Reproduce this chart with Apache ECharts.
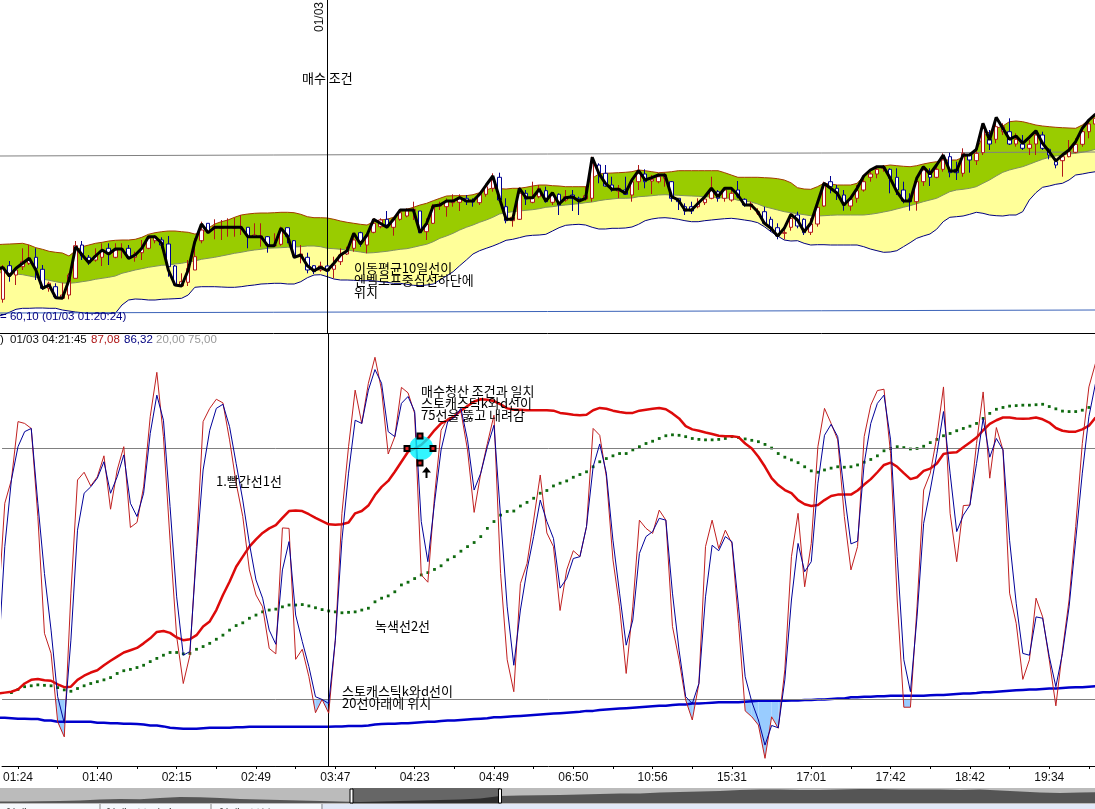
<!DOCTYPE html>
<html><head><meta charset="utf-8">
<style>html,body{margin:0;padding:0;background:#fff;overflow:hidden}#c{width:1095px;height:809px}</style>
<script src="https://cdn.jsdelivr.net/npm/echarts@6/dist/echarts.min.js"></script>
</head><body><div id="c"></div>
<script>
// every series runs from one bar left of the picture edge to the last bar
const timeLabels=['01:24','01:40','02:15','02:49','03:47','04:23','04:49','06:50','10:56','15:31','17:01','17:42','18:42','19:34'];
const openP=[40,
32.7,66.3,57,65.3,68.7,74.7,62.7,43.7,45.3,33.7,
37,53.7,87,74.7,72,74.7,83.7,74.7,82,83.7,
74.7,79.3,83.7,91.3,92,88,66,46,49.7,62,
91.3,108.7,103.7,103.7,104,104,104,104.7,94.7,94.7,
95.3,86.3,87.7,104.3,91.3,76,74.7,66.3,62,66,
62.7,70.3,78,83.7,99.3,87,99.7,105.3,112.7,104.7,
112.7,116,121.3,121,100.3,108.7,126,125.3,129.3,129.7,
133.7,131.3,129.3,137.7,143.7,154.7,125.3,111.3,112.7,138.7,
129.7,135.3,141.3,129.7,137.7,132,137,133.7,133,133.7,
167,158.7,147,141,142,137,150.3,158,151,150.3,
153.7,150.3,133.7,125.3,125.3,125.3,129.3,133.7,140.3,133.7,
132,142,132.7,126,118.7,120.3,112.7,104.3,98.7,104.7,
117,112.7,99.7,108,126,150.3,143.7,137,126,133.7,
142,154.7,158,163.7,162.7,154.7,142,133.7,130.3,150.3,
158,154.7,162.7,175.3,162.7,158.7,177,171.3,179.3,192.7,
192.7,200.3,200.3,188,188,183.7,188,197,182.7,170.3,
171.3,175.3,179.7,187.7,200.3,208];
const closeP=[62,
64.7,57,62,70.3,73.7,63.7,43.7,48.7,35.3,37,
57,86.3,76,69.3,76,80.3,78,82,83,74.7,
78,83.7,93.7,95.3,87,65.3,47,50.3,63.7,75.3,
102,99.3,105.3,104.7,105,105,105,95.3,97,96,
87,87,102,95.3,76,78,62,60.3,66,61.3,
67,77,81.3,92,90.3,97,108.7,112,107,112.7,
119.3,121.3,122.7,99.3,107.7,126,128,130.3,131,133.7,
130.3,130,137.7,145.3,152,132,111.3,114.7,138.7,133,
133.7,143.7,130.3,137,127,135.3,133.7,130.3,136.3,168.7,
158.7,146,142,143.7,137.7,150.3,158.7,150.3,152.7,155.3,
157,133.7,130.3,121,121,128.7,133,141.3,133.7,142,
138.7,135.3,127,128,120.3,108.7,103.7,96,99.3,113.7,
106,99.3,108,124.7,147,145.3,139.3,127,132.7,141.3,
150.3,158,162.7,164.3,153.7,142,131,130.3,150.3,162,
154.7,162.7,172,159.3,159.3,178.7,172,178.7,203.7,188,
205.3,205.3,188,192.7,183.7,187.7,197,183.7,177,167,
175.3,180.3,187.7,200.3,208,213.7];
const lowP=[36,
29.3,50.3,47,62,67,52,42,40.3,33.7,32.7,
32.7,53.7,72,67,70.3,66,67,73.7,73.7,72.7,
70.3,72,82.7,88.7,83.7,55.3,46,45.3,46,62,
88.7,98.7,92.7,92,95.3,95.3,97,83.7,94.7,85.3,
79.3,85.3,86.3,88.7,73.7,68.7,58.7,58,60.3,57,
53.7,67,77,80.3,85.3,78.7,98.7,103.7,103.7,96.3,
111.3,114.7,112,98.7,92,108,122,115.3,125.3,121,
127,125.3,127,135.3,140.3,130.3,108.7,105.3,112,127,
128.7,133.7,129.3,127,117,130.3,121,117,131.3,130.3,
148.7,145.3,140.3,133.7,137,130.3,142,143.7,138,148.7,
145.3,130.3,122,117,118,123.7,127,132.7,130.3,130.3,
130.3,133.7,125.3,122,117,108,100.3,92.7,92.7,101.3,
103.7,97,97,105.3,125.3,138.7,132,121.3,121.3,129.3,
140.3,150.3,153.7,160.3,138.7,137,128.7,121.3,121.3,146,
146,153.7,160.3,154.7,152,155.3,159.3,167,177,182,
188.7,197,187,185.3,182,177,177,182,172.7,163.7,
155.3,174.7,178.7,185.3,193.7,205.3];
const highP=[66,
67,71,63.7,83.7,87,83.7,67,50.3,48.7,49.3,
58.7,91,91,77,83.7,88.7,88.7,88.7,88.7,87,
80.3,92,95.3,97,94.7,96,67,58.7,72,93.7,
110.3,108.7,112.7,112,113.7,114.3,117,104.7,108.7,108.7,
96,98.7,105.3,104.3,92,87,79.3,67,70.3,67,
75.3,83.7,85.3,99.3,100.3,97,113.7,113.7,121,114.7,
122,123.7,130.3,121,113.7,128,130.3,133.7,137.7,137.7,
137,133.7,139.3,147,158.7,159.3,133.7,117,144.7,142,
150.3,147,145.3,138.7,138.7,142,142,135.3,145.3,175.3,
168.7,167,155.3,147,155.3,153.7,167,162.7,157,158.7,
158.7,151,133.7,128.7,130.3,133.7,135.3,155.3,142,143.7,
142,151,133.7,130.3,123.7,125.3,115.3,108.7,103.7,118.7,
120.3,113.7,113.7,128.7,150.3,156,147,142,135.3,147,
155.3,160.3,165.3,167,163.7,163.7,150.3,138.7,152,166.3,
163.7,168.7,178.7,179.3,170.3,183.7,178.7,183.7,208.7,202,
212,208.7,213.7,198.7,197,192,200.3,200.3,183.7,173.7,
177,192,193.7,203.7,212,217];
const ma10=[62,
64.7,56,63.7,68.7,73.7,62,43.7,47,34.3,33.7,
52,85.3,77,69.3,76,82,78,83,83,73.7,
77,83.7,95.3,95.3,88.7,62,47,46,62,90.3,
108,99.3,104.7,104.7,104.7,104.7,104.7,95.3,95.3,95.3,
86.3,86.3,103.7,96,74.7,77,66.3,61.3,64.7,61.3,
68.7,77,81.3,98.7,88,97,112.7,108.7,104.7,112.7,
122,122,122,99.7,108.7,126,127,131,131,134.3,
131,131,137.7,147,156,133.7,112.7,112.7,143.7,134.3,
134.3,142.7,131,139.3,128,134.3,135.3,131,133.7,174.7,
158.7,148.7,142.7,142.7,138.7,152,161.3,152,154.3,157,
157,135.3,132,122,122,128.7,135.3,143.7,135.3,143.7,
143.7,137,127,127,120.3,108.7,103.7,96,103.7,117.7,
112,100.3,108.7,128.7,148.7,143.7,138.7,127,133.7,143.7,
156,162,165.3,165.3,153.7,140.3,131,131,153.7,165.3,
158,167,177,161,161,177,177,182.7,208.7,192,
214.7,203.7,192.7,196,188.7,194.7,201.3,188.7,180.3,171,
177,182,190.3,203.7,212,218];
const bandUpper=[87.3,
87.7,88,88.3,88.7,87,84.3,82.7,80.7,79.7,79,
76,81.3,85.3,87,88.7,89.7,91,91.7,92,92,
92.7,94.7,97.7,99.3,100.3,101,101,100.3,99.7,98,
98.7,103.7,108,110.3,112,114.7,117,118,118.7,119,
119,119.3,119.7,119.7,119.3,117.7,115.3,114.3,114.3,114,
112.7,111,109.7,108.7,107.7,107,110.3,112,112.7,114.7,
120.3,122.7,124.7,127,128.7,131.3,133.7,136,136.3,136.3,
136.3,137.3,139.3,142,144.3,143.3,143,143.7,143.7,144.7,
146,147,147,146.3,146,145.3,145.3,145.3,145.3,153.7,
158,158.7,159,159.3,159.7,160.3,162,161.3,160.3,159.3,
159.7,160.3,161.3,161.3,161.3,161.3,161.3,161.3,161.3,159.3,
157,154.7,154.7,154.7,154.7,154.3,154,153.3,152,149.3,
144.3,143,142.7,145.3,148.7,148,147,147,147,148.7,
156,161.3,164.3,166,167,166.3,165.7,165.3,166.3,168,
169.3,170.3,172,172,172,174.7,177,182,195.3,200.3,
203.7,206,210.3,211,210.3,208.7,207,206,205.3,204.7,
204.3,204,203.7,207,212,217];
const bandMid=[59.3,
59.3,58.7,58,57.3,56,54.7,53,51.7,50.3,49,
48.7,49.3,50.3,51.3,52.7,53.7,54.7,56,58.7,60.3,
62,63.3,64.7,65.7,66.7,67,68,68.7,70,71,
72.7,73.7,74.7,76,77.3,78.7,79.7,81,82,82.7,
83.7,84,84.3,84.7,85,85.3,86,86,85.3,83.7,
83.3,82.7,82,81,80,79,79.3,80,80.7,81.7,
82.7,83.3,84.7,86.3,87.7,90.3,93.7,96,98.7,102,
104.7,107,109.7,112,114.7,118,119.3,120.3,121,121.7,
122.3,123.3,124.7,125.3,126.3,127,127.7,128.3,129.3,130,
131.3,132.3,133,133.7,133.7,134,135.3,135.7,136.3,137,
137.3,137,136.7,136.3,136,135.7,135.3,135,134.3,134,
133.7,131.7,131,130,128,125.3,123.7,122,120.3,119.3,
118.3,117.3,116.3,116,116.3,116.7,117,117,117,117,
117,117.7,118.7,120,121.3,123,124.7,126.3,128.3,130.3,
132,133.7,137,140.3,142,142.7,143.7,145.3,148.7,152,
156,159.7,162,163.7,165.3,167.7,170.3,172.7,174.7,176,
177,178,178.7,179.7,181,182.7];
const bandLower=[15.3,
17,19.7,22.7,23.7,23.7,24,24,23.7,23.7,22,
21,20,19.3,18.7,18.7,18.7,18.7,18.7,27,32,
33,32.7,32,32,32.7,33,33.3,33.7,37,44.7,
45.3,45.3,45.3,45,44.7,44.7,45.3,46.3,47,48,
48.3,48.7,48.7,48,48,50.3,54.3,57,57.3,55.3,
53,52,52,51.7,51.3,51.3,51.3,50.3,49.7,48.7,
48.7,47.7,46.7,46.3,47,48,52,56,60.3,66.3,
72,78,81.3,83.7,86,88.7,91.7,92.7,94.3,96,
96.7,97,97.7,101,104.3,106.7,107.3,107.7,107,104.7,
103,103,103.7,103.7,104,105,107.7,111.3,113,114,
114.3,113.7,112.7,111.3,110.3,110.3,111.3,112,112.7,113.3,
113.7,113,112,111,109.3,105.3,100.3,96,92,91,
91.3,88.7,87,87.3,87.3,87,87,87,87,87,
85.3,83,81.3,79.7,80,81.3,85.3,89.3,93.7,96,
98,102.7,110.3,114.7,115.3,116,117.7,119.7,118.7,117,
116.3,116,117,117,120.3,132,139.3,144.7,146,147.7,
148.7,152,157,158,159.3,160.3];
const stochK=[40.2,
62.9,68.0,80.8,80.4,79.3,60.0,34.4,30.0,15.0,11.7,
43.2,68.0,69.7,66.7,68.7,73.3,61.6,70.2,75.3,57.6,
58.7,66.5,81.9,91.6,77.5,54.8,33.7,23.4,29.6,53.4,
80.8,83.7,85.7,84.9,76.8,67.3,60.0,48.3,42.8,40.2,
31.1,29.9,57.5,57.4,28.7,30.9,24.9,17.0,19.9,16.9,
32.9,60.7,75.3,87.7,80.4,89.2,94.9,87.7,73.7,77.5,
88.3,87.1,82.6,47.2,45.6,64.3,78.9,81.5,81.9,83.0,
74.6,60.9,69.5,76.0,82.2,47.5,28.6,21.6,45.3,49.7,
59.2,69.1,56.4,53.4,39.4,48.3,52.5,51.2,57.8,79.3,
77.8,68.7,50.5,40.2,25.6,40.2,59.2,57.4,56.3,61.4,
59.2,35.9,28.6,19.8,15.4,23.4,53.4,59.2,53.0,57.0,
54.1,36.6,17.4,16.1,14.3,7.0,16.1,13.6,26.4,51.2,
60.7,44.6,54.1,75.3,83.7,80.4,76.8,60.0,48.3,53.4,
77.5,84.4,87.6,87.9,73.8,41.7,18.2,18.2,40.2,65.8,
69.5,77.5,88.4,60.7,50.1,62.4,62.5,76.0,87.3,68.4,
79.5,74.6,43.2,36.6,24.3,28.6,42.1,38.0,28.6,18.5,
30.7,41.7,57.8,76.0,88.4,93.6];
const stochD=[28.6,
53.4,68.0,75.3,78.6,79.3,62.9,47.5,35.1,20.5,14.7,
32.9,57.0,65.1,66.5,68.4,72.0,65.1,68.7,73.5,62.9,
60.0,65.1,78.2,86.6,81.1,62.2,42.4,29.6,30.4,51.9,
70.2,78.9,83.7,84.6,79.7,71.6,63.6,54.1,46.1,42.1,
35.1,32.0,48.3,54.5,38.4,32.6,27.1,20.5,19.9,19.0,
32.9,54.8,69.5,81.1,80.4,87.7,92.2,89.2,78.6,77.5,
84.8,86.3,83.0,58.9,50.1,62.9,74.6,80.8,81.7,83.7,
76.8,65.8,69.5,75.3,80.0,60.0,40.2,27.4,39.5,48.3,
55.6,63.6,58.9,55.2,44.3,46.4,50.8,51.2,57.8,70.9,
75.9,69.5,54.8,43.2,31.8,37.3,51.9,55.6,56.7,59.6,
59.2,43.2,30.7,20.5,19.0,23.4,42.4,53.7,52.5,55.6,
54.5,40.2,24.9,19.4,15.4,9.9,14.2,13.7,24.2,41.7,
54.1,47.9,50.1,67.3,77.8,80.2,77.5,65.1,54.0,54.6,
71.6,80.4,84.8,86.6,76.8,51.2,28.6,21.6,38.0,58.5,
65.8,73.8,83.0,69.5,56.7,60.3,62.5,71.6,81.5,73.0,
77.1,74.6,54.8,41.0,30.0,29.6,38.0,37.7,29.3,22.7,
30.0,40.2,54.8,69.5,81.9,89.2];
const avgRed=[21.2,
21.4,21.6,22.1,23.4,24.2,24.4,24.1,24.0,23.2,22.6,
22.7,24.2,25.1,25.8,26.3,27.4,28.4,29.3,30.2,30.7,
31.2,32.2,33.3,34.7,34.9,34.5,33.5,32.9,33.1,34.0,
35.9,37.0,39.5,42.8,45.7,49.0,51.2,53.4,55.0,56.4,
57.4,58.1,59.7,61.2,61.3,61.2,60.5,59.7,59.0,58.3,
58.2,58.3,58.7,60.7,61.2,62.4,64.7,66.5,67.8,69.8,
72.0,74.2,74.9,75.7,77.1,78.9,80.4,81.1,82.0,83.2,
84.2,85.2,85.7,85.6,85.3,84.6,83.7,83.4,83.4,83.3,
83.3,83.3,83.3,83.2,82.7,82.5,82.3,82.2,82.3,83.3,
83.8,83.6,83.2,82.9,82.7,82.7,83.2,83.4,83.6,83.8,
83.5,82.6,81.5,79.8,79.1,78.8,78.4,78.1,77.7,77.6,
77.6,77.4,76.0,74.9,73.1,70.9,68.4,66.9,65.8,65.1,
63.6,62.7,62.3,62.5,63.6,64.5,64.8,64.8,64.8,65.7,
67.0,68.2,69.7,71.3,71.8,70.9,69.5,68.2,68.6,70.0,
70.5,71.6,73.7,74.0,74.1,75.2,76.2,77.3,78.9,80.3,
81.1,81.7,81.7,81.5,81.4,81.5,81.7,81.3,80.6,79.4,
78.8,78.6,78.6,79.1,79.9,81.7];
const avgGreen=[null,
null,21.4,22.1,22.7,22.9,23.1,23.0,22.9,22.5,22.0,
21.7,22.3,22.9,23.4,23.8,24.2,24.7,25.6,26.2,26.5,
26.9,27.4,28.2,28.9,29.6,30.2,30.2,29.9,30.0,30.9,
31.5,32.2,33.1,34.0,35.1,36.1,36.7,37.7,38.4,39.1,
39.5,39.7,40.2,40.6,40.6,40.7,40.4,40.0,39.6,39.3,
39.1,38.9,39.0,39.1,39.5,39.9,41.3,42.1,42.6,43.5,
45.0,45.6,46.4,47.2,47.7,48.4,49.2,50.5,51.2,52.4,
53.4,54.3,55.6,57.4,58.9,60.3,61.1,61.2,62.3,63.1,
64.0,65.1,65.7,66.7,67.3,67.8,68.6,69.2,69.8,70.9,
72.0,72.7,73.3,73.8,73.8,74.6,75.3,76.0,76.5,77.1,
77.7,77.9,77.8,77.5,77.1,76.9,76.8,76.8,76.9,77.1,
77.5,77.3,77.0,76.7,76.4,75.8,75.0,73.8,73.0,72.4,
71.8,70.9,70.0,69.7,70.2,70.6,70.9,70.8,70.9,71.3,
71.9,72.5,73.3,74.4,74.9,75.3,75.1,74.8,74.9,75.4,
76.2,76.9,77.7,78.2,78.8,79.3,79.8,80.4,81.5,82.6,
83.5,83.9,84.2,84.3,84.4,84.4,84.5,84.6,84.1,83.6,
83.1,83.0,83.0,83.3,83.9,84.4];
const avgBlue=[15.9,
15.9,15.8,15.7,15.7,15.6,15.6,15.3,15.3,15.0,15.0,
15.0,15.0,15.0,15.0,14.8,14.8,14.7,14.7,14.6,14.6,
14.5,14.4,14.2,14.2,14.0,13.7,13.6,13.5,13.5,13.5,
13.6,13.7,13.7,13.7,13.7,13.8,13.8,13.9,13.9,13.9,
13.9,13.9,13.9,13.9,13.9,13.9,13.9,13.9,13.9,13.9,
14.0,14.0,14.1,14.1,14.1,14.2,14.4,14.5,14.6,14.6,
14.7,14.7,14.8,14.9,15.0,15.0,15.2,15.3,15.3,15.4,
15.5,15.6,15.7,15.8,16.0,16.0,16.1,16.2,16.3,16.4,
16.5,16.6,16.7,16.8,16.9,17.0,17.1,17.2,17.4,17.4,
17.6,17.7,17.8,17.9,18.0,18.1,18.2,18.3,18.4,18.5,
18.5,18.7,18.8,18.8,19.0,19.0,19.1,19.2,19.3,19.3,
19.3,19.3,19.4,19.5,19.6,19.6,19.6,19.6,19.6,19.7,
19.7,19.8,19.8,19.9,19.9,20.0,20.1,20.1,20.4,20.4,
20.5,20.5,20.6,20.6,20.7,20.7,20.7,20.7,20.7,20.7,
20.8,20.9,20.9,21.0,21.1,21.2,21.2,21.3,21.5,21.5,
21.6,21.7,21.8,21.9,22.0,22.1,22.1,22.2,22.3,22.3,
22.4,22.5,22.6,22.6,22.7,22.8];
const overviewVolume=[2,2,2.3,2.6,3,4,4.4,4.2,5.5,6.5,6.2,5.5,4.5,4,3.5,3,2.5,2,1.5,2,2.5,3,3.5,4,5,7.5,8,8.3,8.5,9,9.5,10,10,11,11.5,12,12.5,13.5,14,14,13.5,13.5,14,14.5,14.5,14,14,14,13.5,14,13,12,11,10.5,11,11.5];
const overLevel=75, underLevel=20;
const priceTrend=[176,180], supportLine=[19,22];

const N=stochK.length;
const pairs=a=>a.map((v,j)=>[j,v]);
const firstBar=3, barsPerLabel=12, xMin=0.584, xMax=165.92;
const tickAt=[],labelAt=[];
for(let j=firstBar;j<N;j+=barsPerLabel/2) tickAt.push(j);
timeLabels.forEach((_,k)=>labelAt.push(firstBar+k*barsPerLabel));
const candles=openP.map((o,j)=>[j,o,closeP[j],lowP[j],highP[j]]);
const cursor=50, marker=64;
const KR='13px "Noto Sans CJK KR"', LAT='11.5px "Liberation Sans"';
const base={type:'line',showSymbol:false,symbol:'none',silent:true,animation:false};
const up=(name,data,color,w,fill,z)=>({...base,name,data:pairs(data),xAxisIndex:0,yAxisIndex:0,z,lineStyle:{color,width:w},
  areaStyle:fill?{color:fill,opacity:1,origin:'start'}:undefined});
const low=(name,data,color,w,z)=>({...base,name,data:pairs(data),xAxisIndex:1,yAxisIndex:1,z,lineStyle:{color,width:w}});
const txt=(text,x,y,fill='#000',font=KR,extra={})=>({type:'text',z:60,silent:true,...extra,style:{text,x,y,fill,font,verticalAlign:'middle'}});
const rect=(x,y,w,h,fill,stroke)=>({type:'rect',z:60,silent:true,shape:{x,y,width:w,height:h},style:{fill,stroke:stroke||null,lineWidth:1}});
const seg=(x1,y1,x2,y2,c,w=1)=>({type:'line',z:60,silent:true,shape:{x1,y1,x2,y2},style:{stroke:c,lineWidth:w}});
const square=(x,y)=>[rect(x-3.5,y-3.5,7,7,'#000'),rect(x-1.5,y-1.5,3,3,'#d22')];
const markLines=(data,color)=>({silent:true,symbol:'none',animation:false,label:{show:false},data,lineStyle:{color,width:1,type:'solid'}});

const option={
 animation:false,backgroundColor:'#fff',
 grid:[{left:0,width:1095,top:0,height:333},{left:0,width:1095,top:334,height:432},
       {left:0,width:1095,top:788,height:15.5,show:true,backgroundColor:'#bbbbbb',borderWidth:0}],
 xAxis:[
  {type:'value',min:xMin,max:xMax,gridIndex:0,z:20,axisLine:{onZero:false,lineStyle:{color:'#000'}},axisTick:{show:false},axisLabel:{show:false},splitLine:{show:false}},
  {type:'value',min:xMin,max:xMax,gridIndex:1,z:20,axisLine:{onZero:false,lineStyle:{color:'#000',width:1}},
   axisTick:{show:true,customValues:tickAt,length:3,lineStyle:{color:'#000'}},
   axisLabel:{customValues:labelAt,formatter:v=>timeLabels[(v-firstBar)/barsPerLabel]||'',color:'#111',margin:6,fontFamily:'Liberation Sans',fontSize:12,hideOverlap:false,showMinLabel:true,showMaxLabel:true},splitLine:{show:false}},
  {type:'value',gridIndex:2,min:0,max:54.75,show:false,splitLine:{show:false}}],
 yAxis:[{type:'value',gridIndex:0,min:-1,max:332,show:false,splitLine:{show:false}},
        {type:'value',gridIndex:1,min:5.32,max:100,show:false,splitLine:{show:false}},
        {type:'value',gridIndex:2,min:0,max:15.5,show:false,splitLine:{show:false}}],
 series:[
  up('bandUpper',bandUpper,'#a33a00',1,'#99cc00',1),
  up('bandMid',bandMid,'#7f9060',1,'#ffff99',2),
  up('bandLower',bandLower,'#000080',1,'#ffffff',3),
  {...base,name:'support',data:[],xAxisIndex:0,yAxisIndex:0,z:4,
   markLine:markLines([[{xAxis:xMin,yAxis:supportLine[0]},{xAxis:xMax,yAxis:supportLine[1]}]],'#3a62b8')},
  {...base,name:'trend',data:[],xAxisIndex:0,yAxisIndex:0,z:4,
   markLine:markLines([[{xAxis:xMin,yAxis:priceTrend[0]},{xAxis:xMax,yAxis:priceTrend[1]}]],'#808080')},
  {type:'candlestick',name:'candles',data:candles,xAxisIndex:0,yAxisIndex:0,barWidth:4,z:5,silent:true,animation:false,encode:{x:0,y:[1,2,3,4]},
   itemStyle:{color:'#fff',color0:'#fff',borderColor:'#b01818',borderColor0:'#000090',borderWidth:1}},
  up('ma10',ma10,'#000',3,null,6),
  {...base,name:'cursorUp',data:[],xAxisIndex:0,yAxisIndex:0,z:8,markLine:markLines([{xAxis:cursor}],'#000')},
  {...base,name:'levels',data:[],xAxisIndex:1,yAxisIndex:1,z:1,markLine:markLines([{yAxis:overLevel},{yAxis:underLevel}],'#808080')},
  {...base,name:'cursorLow',data:[],xAxisIndex:1,yAxisIndex:1,z:8,markLine:markLines([{xAxis:cursor}],'#000')},
  // shaded part of %K below the lower level
  {type:'custom',name:'below',xAxisIndex:1,yAxisIndex:1,z:2,silent:true,animation:false,
   data:stochK.slice(0,-1).map((v,j)=>[j,v,stochK[j+1]]),encode:{x:0,y:1},
   renderItem(params,api){
     const j=api.value(0),a=api.value(1),b=api.value(2),T=underLevel;
     if(a>=T&&b>=T) return {type:'group',children:[]};
     let pts;
     if(a<T&&b<T) pts=[[j,T],[j,a],[j+1,b],[j+1,T]];
     else if(a<T) pts=[[j,T],[j,a],[j+(T-a)/(b-a),T]];
     else pts=[[j+(a-T)/(a-b),T],[j+1,b],[j+1,T]];
     return {type:'polygon',shape:{points:pts.map(p=>api.coord(p))},style:{fill:'#99ccff'}};
   }},
  low('avgBlue',avgBlue,'#0000cc',2.5,4),
  {...base,name:'avgGreen',data:pairs(avgGreen),xAxisIndex:1,yAxisIndex:1,z:4,showSymbol:true,showAllSymbol:true,symbol:'rect',symbolSize:2.8,
   itemStyle:{color:'#0f6a0f'},lineStyle:{width:0,opacity:0}},
  low('avgRed',avgRed,'#dd0a0a',2.5,5),
  low('stochK',stochK,'#c02020',1,6),
  low('stochD',stochD,'#000099',1,7),
  {type:'scatter',name:'marker',data:[[marker,overLevel]],xAxisIndex:1,yAxisIndex:1,symbol:'circle',symbolSize:24,z:9,silent:true,animation:false,itemStyle:{color:'#00f2ff'}},
  // overview strip
  {...base,name:'overview',data:pairs(overviewVolume),xAxisIndex:2,yAxisIndex:2,z:2,lineStyle:{width:0},areaStyle:{color:'#555555',opacity:1,origin:'start'},
   markArea:{silent:true,animation:false,z:3,itemStyle:{color:'rgba(0,0,0,0.45)'},data:[[{xAxis:17.6},{xAxis:25}]]}}
 ],
 graphic:{elements:[
  txt('01/03',320,32,'#111','12px "Liberation Sans"',{rotation:Math.PI/2,originX:320,originY:32}),
  txt('매수 조건',302,78),
  txt('이동평균10일선이',354,268),txt('엔벨로프중심선하단에',354,280),txt('위치',354,292),
  txt('= 60,10 (01/03 01:20:24)',0,317,'#000080',LAT),
  txt(')',0,340,'#111',LAT),txt('01/03 04:21:45',10,340,'#111',LAT),txt('87,08',91,340,'#b01818',LAT),
  txt('86,32',124,340,'#000080',LAT),txt('20,00',156,340,'#999',LAT),txt('75,00',188,340,'#999',LAT),
  txt('1.빨간선1선',216,481),txt('녹색선2선',375,626),
  txt('매수청산 조건과 일치',421,391),txt('스토캐스틱k와d선이',421,403),txt('75선을 뚫고 내려감',421,415),
  txt('스토캐스틱k와d선이',342,691),txt('20선아래에 위치',342,703),
  seg(410,448.5,430,448.5,'#000'),
  ...square(420,436),...square(420,463),...square(407,448.5),...square(433,448.5),
  seg(426.5,478,426.5,470,'#000',2),
  {type:'polygon',z:60,silent:true,shape:{points:[[426.5,467],[422,472.5],[431,472.5]]},style:{fill:'#000'}},
  rect(350,789,3,14,'#fff','#000'),rect(498.5,789,3,14,'#fff','#000'),
  rect(0,804,321,5,'#f6f9fd'),rect(321,804,774,5,'#e2e9f8'),
  seg(100,804,100,809,'#888'),seg(211,804,211,809,'#888'),seg(322,804,322,809,'#888'),
  txt('연계 VIIHEU 0 :',5,814,'#222','12px "Noto Sans CJK KR"'),txt('연계 5분 단기 /',105,814,'#222','12px "Noto Sans CJK KR"'),txt('연계 5분봉 0',218,814,'#222','12px "Noto Sans CJK KR"')
 ]}
};
const chart=echarts.init(document.getElementById('c'),null,{renderer:'canvas',width:1095,height:809});
chart.setOption(option);
</script></body></html>
